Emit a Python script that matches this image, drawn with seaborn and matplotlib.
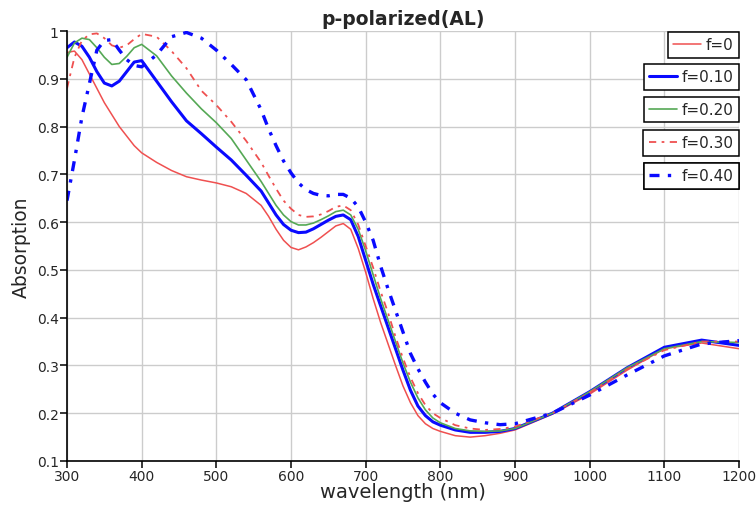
import numpy as np
import pandas as pd
import matplotlib
matplotlib.use("Agg")
import matplotlib.pyplot as plt
import seaborn as sns
from matplotlib.lines import Line2D

# wavelength grid (nm)
wavelength = ([300, 310, 320, 330, 340, 350, 360, 370, 380, 390, 400]
              + [420, 440, 460, 480, 500, 520, 540]
              + [560, 570, 580, 590, 600, 610, 620, 630, 640, 650, 660, 670, 680, 690,
                 700, 710, 720, 730, 740, 750, 760, 770, 780, 790, 800]
              + [820, 840, 860, 880, 900]
              + [950, 1000, 1050, 1100, 1150, 1200])

f000 = ([0.955, 0.958, 0.940, 0.910, 0.880, 0.850, 0.825, 0.800, 0.780, 0.760, 0.745]
        + [0.725, 0.708, 0.695, 0.688, 0.682, 0.674, 0.660]
        + [0.635, 0.612, 0.585, 0.562, 0.547, 0.542, 0.548, 0.557, 0.568, 0.580, 0.592,
           0.597, 0.585, 0.545, 0.495, 0.440, 0.390, 0.345, 0.300, 0.257, 0.222, 0.195,
           0.178, 0.168, 0.162]
        + [0.153, 0.150, 0.153, 0.158, 0.165]
        + [0.198, 0.240, 0.290, 0.335, 0.347, 0.335])

f010 = ([0.965, 0.977, 0.968, 0.945, 0.915, 0.891, 0.885, 0.895, 0.915, 0.935, 0.938]
        + [0.895, 0.852, 0.812, 0.785, 0.757, 0.730, 0.698]
        + [0.665, 0.640, 0.615, 0.595, 0.583, 0.578, 0.579, 0.586, 0.595, 0.604, 0.612,
           0.615, 0.605, 0.570, 0.520, 0.470, 0.425, 0.380, 0.335, 0.290, 0.248, 0.215,
           0.195, 0.182, 0.175]
        + [0.165, 0.160, 0.160, 0.162, 0.168]
        + [0.200, 0.245, 0.295, 0.338, 0.353, 0.342])

f020 = ([0.945, 0.975, 0.985, 0.982, 0.965, 0.945, 0.930, 0.932, 0.947, 0.965, 0.972]
        + [0.948, 0.906, 0.870, 0.837, 0.808, 0.775, 0.730]
        + [0.685, 0.660, 0.635, 0.615, 0.601, 0.594, 0.594, 0.598, 0.605, 0.613, 0.622,
           0.625, 0.615, 0.585, 0.540, 0.490, 0.440, 0.395, 0.350, 0.305, 0.265, 0.232,
           0.207, 0.190, 0.180]
        + [0.168, 0.163, 0.162, 0.163, 0.168]
        + [0.200, 0.245, 0.295, 0.335, 0.350, 0.348])

f030 = ([0.880, 0.945, 0.980, 0.993, 0.995, 0.985, 0.970, 0.965, 0.970, 0.983, 0.994]
        + [0.988, 0.958, 0.922, 0.875, 0.845, 0.810, 0.770]
        + [0.725, 0.697, 0.670, 0.645, 0.628, 0.615, 0.611, 0.612, 0.616, 0.623, 0.632,
           0.635, 0.625, 0.595, 0.550, 0.505, 0.455, 0.410, 0.360, 0.315, 0.275, 0.242,
           0.217, 0.200, 0.190]
        + [0.175, 0.168, 0.165, 0.167, 0.172]
        + [0.200, 0.243, 0.292, 0.332, 0.350, 0.350])

f040 = ([0.645, 0.730, 0.820, 0.890, 0.960, 0.980, 0.982, 0.960, 0.940, 0.928, 0.925]
        + [0.950, 0.988, 0.997, 0.985, 0.960, 0.930, 0.898]
        + [0.835, 0.795, 0.760, 0.728, 0.703, 0.682, 0.668, 0.660, 0.656, 0.655, 0.658,
           0.658, 0.650, 0.632, 0.600, 0.562, 0.508, 0.460, 0.415, 0.370, 0.325, 0.293,
           0.265, 0.240, 0.222]
        + [0.200, 0.186, 0.180, 0.176, 0.178]
        + [0.200, 0.238, 0.280, 0.320, 0.345, 0.352])

labels = ["f=0", "f=0.10", "f=0.20", "f=0.30", "f=0.40"]
series = [f000, f010, f020, f030, f040]

RED = "#ef5050"
BLUE = "#0a0aff"
GREEN = "#55a855"
styles = [
    dict(color=RED, linewidth=1.1, linestyle="-"),
    dict(color=BLUE, linewidth=2.2, linestyle="-"),
    dict(color=GREEN, linewidth=1.2, linestyle="-"),
    dict(color=RED, linewidth=1.3, linestyle=(0, (4, 3, 1.5, 3))),
    dict(color=BLUE, linewidth=2.4, linestyle=(0, (3, 2.5, 1, 2.5))),
]

sns.set_style("white")
plt.rcParams["font.family"] = ["DejaVu Sans"]

fig = plt.figure(figsize=(7.56, 5.06), dpi=100)
ax = fig.add_axes([67 / 756, 1 - 462 / 506, (739 - 67) / 756, (462 - 32) / 506])

handles = []
for lab, vals, st in zip(labels, series, styles):
    df = pd.DataFrame({"wavelength": wavelength, "absorption": vals})
    sns.lineplot(data=df, x="wavelength", y="absorption", ax=ax, legend=False, **st)
    handles.append(Line2D([], [], **st))

ax.set_xlim(300, 1200)
ax.set_ylim(0.1, 1.0)
xticks = list(range(300, 1201, 100))
yticks = [0.1, 0.2, 0.3, 0.4, 0.5, 0.6, 0.7, 0.8, 0.9, 1.0]
ytick_labels = ["0.1", "0.2", "0.3", "0.4", "0.5", "0.6", "0.7", "0.8", "0.9", "1"]
ax.set_xticks(xticks)
ax.set_xticklabels([str(t) for t in xticks])
ax.set_yticks(yticks)
ax.set_yticklabels(ytick_labels)

ax.grid(True, color="#cccccc", linewidth=1.0)
ax.set_axisbelow(True)
for s in ["top", "right"]:
    ax.spines[s].set_visible(False)
for s in ["left", "bottom"]:
    ax.spines[s].set_color("black")
    ax.spines[s].set_linewidth(1.2)
ax.tick_params(axis="both", direction="out", length=5, width=1.1, color="black",
               labelsize=10, pad=1, bottom=True, left=True)

ax.set_xlabel("wavelength (nm)", fontsize=14, labelpad=-1)
ax.set_ylabel("Absorption", fontsize=13.5, labelpad=4)
ax.set_title("p-polarized(AL)", fontsize=13.5, fontweight="bold", pad=5)

# each legend entry sits in its own box, stacked on the right
tops = [0.998, 0.923, 0.847, 0.770, 0.693]
for h, lab, y in zip(handles, labels, tops):
    leg = ax.legend([h], [lab], loc="upper right", bbox_to_anchor=(1.0, y),
                    frameon=True, fancybox=False, framealpha=1, edgecolor="black",
                    fontsize=11, handlelength=1.85, handletextpad=0.3,
                    borderpad=0.35, borderaxespad=0)
    leg.get_frame().set_linewidth(1.1)
    ax.add_artist(leg)

fig.savefig("out.png", dpi=100)
